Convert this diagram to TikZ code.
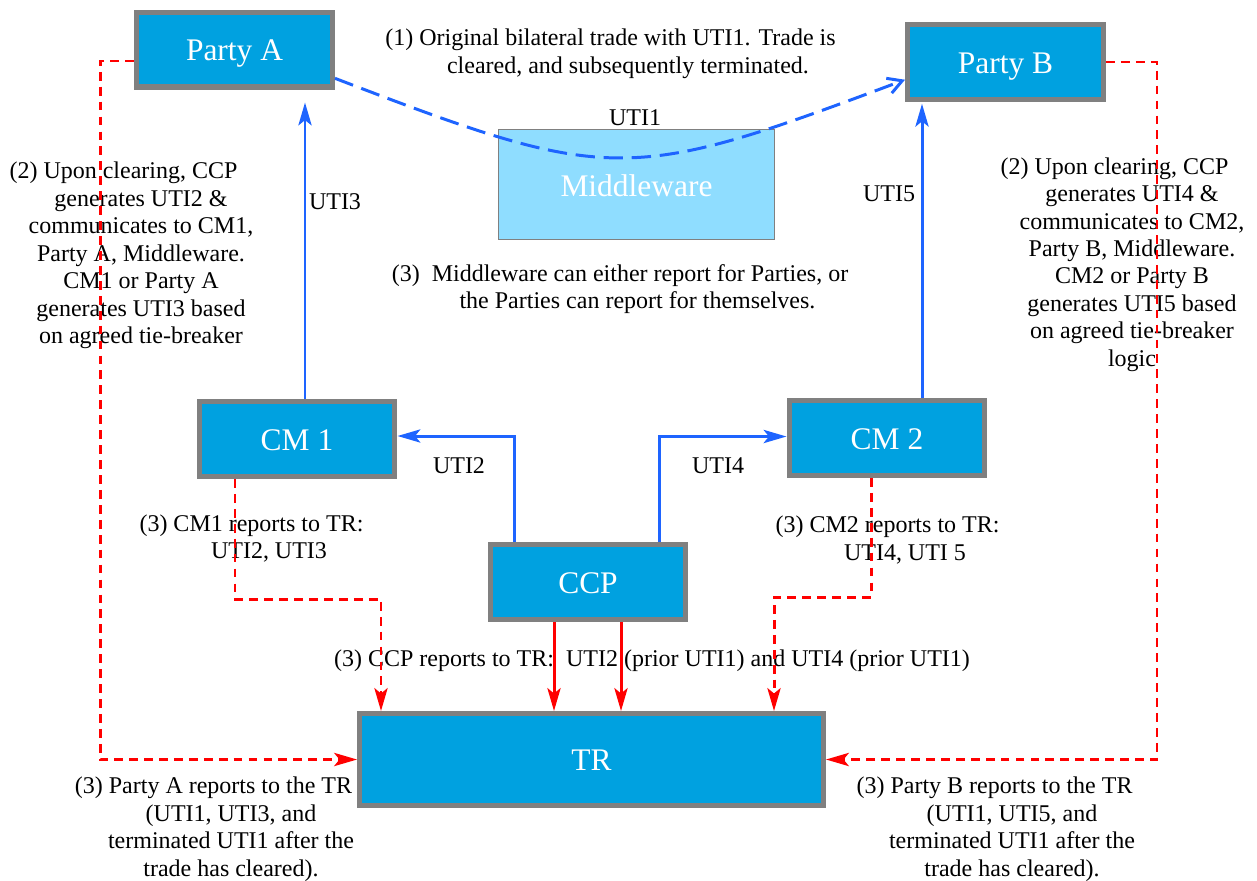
\documentclass[tikz,border=0pt]{standalone}
\usepackage{fontspec}
\setmainfont{Liberation Serif}
\usetikzlibrary{arrows.meta,calc}

\definecolor{boxblue}{RGB}{0,161,224}
\definecolor{boxgray}{RGB}{128,128,128}
\definecolor{mwblue}{RGB}{143,221,255}
\definecolor{utiblue}{RGB}{30,100,255}
\definecolor{reportred}{RGB}{255,0,0}

\def\px{0.02cm}
\def\linepad{\hspace*{0.7cm}}

\begin{document}
\begin{tikzpicture}[x=\px,y=-\px, font=\fontsize{13.66}{15.65}\selectfont]
    \tikzstyle{box}=[rectangle, fill=boxblue, draw=boxgray, line width=2.85pt, text=white, font=\fontsize{17.9}{20}\selectfont, text height=13pt, text depth=0pt, minimum width=3.92cm, minimum height=1.5cm, inner sep=0pt]
    \tikzstyle{mw box}=[rectangle, fill=mwblue, draw=boxgray, line width=0.9pt, text=white, font=\fontsize{17.9}{20}\selectfont, text height=14pt, text depth=0pt, minimum width=5.52cm, minimum height=2.2cm, inner sep=0pt]
    \tikzstyle{note}=[align=center, inner sep=0pt]
    \tikzstyle{uti arrow}=[draw=utiblue, line width=1.7pt, -{Stealth[length=13pt, width=7.5pt, inset=3pt]}]
    \tikzstyle{trade curve}=[draw=utiblue, line width=1.7pt, dash pattern=on 11pt off 5pt, -{Straight Barb[length=8pt, width=9pt]}]
    \tikzstyle{report arrow}=[draw=reportred, line width=1.7pt, -{Stealth[length=13pt, width=7.5pt, inset=3pt]}]
    \tikzstyle{report dash}=[report arrow, dash pattern=on 5pt off 3.5pt]

    \useasboundingbox (0,0) rectangle (1257,880);

    % boxes
    \node[mw box] (mw) at (636.5,184.5) {Middleware};
    \node[box] (partyA) at (234.5,49.5) {Party A};
    \node[box] (partyB) at (1005.5,62) {Party B};
    \node[box] (cm1) at (297,439) {CM 1};
    \node[box] (cm2) at (887,438) {CM 2};
    \node[box] (ccp) at (588,582) {CCP};
    \node[box, minimum width=9.28cm, minimum height=1.84cm] (tr) at (591.5,759.5) {TR};

    % notes
    \node[note] (n1) at (628,54) {(1) Original bilateral trade with UTI1. Trade is\linepad\\cleared, and subsequently terminated.};
    \node[note] (n3mw) at (637.5,289) {(3)\ \ Middleware can either report for Parties, or\linepad\\the Parties can report for themselves.};
    \node[note] (n2a) at (141,255.5) {(2) Upon clearing, CCP\linepad\\generates UTI2 \&\\communicates to CM1,\\Party A, Middleware.\\CM1 or Party A\\generates UTI3 based\\on agreed tie-breaker};
    \node[note] (n2b) at (1132,264.5) {(2) Upon clearing, CCP\linepad\\generates UTI4 \&\\communicates to CM2,\\Party B, Middleware.\\CM2 or Party B\\generates UTI5 based\\on agreed tie-breaker\\logic};
    \node[note] (n3cm1) at (269,538.5) {(3) CM1 reports to TR:\linepad\\UTI2, UTI3};
    \node[note] (n3cm2) at (905,540) {(3) CM2 reports to TR:\linepad\\UTI4, UTI 5};
    \node[note] (n3ccp) at (652,661) {(3) CCP reports to TR:\ \ UTI2 (prior UTI1) and UTI4 (prior UTI1)};
    \node[note] (n3a) at (231,829) {(3) Party A reports to the TR\linepad\\(UTI1, UTI3, and\\terminated UTI1 after the\\trade has cleared).};
    \node[note] (n3b) at (1012,829) {(3) Party B reports to the TR\linepad\\(UTI1, UTI5, and\\terminated UTI1 after the\\trade has cleared).};

    % uti labels
    \node (uti1) at (635,118) {UTI1};
    \node (uti2) at (459,466) {UTI2};
    \node (uti3) at (335,202) {UTI3};
    \node (uti4) at (718,466) {UTI4};
    \node (uti5) at (889,194) {UTI5};

    % original trade
    \draw[trade curve] (partyA.-16) .. controls (611,184) and (627,184) .. (partyB.190);

    % uti flows
    \draw[uti arrow] ($(ccp.north)+(-74,0)$) |- ($(cm1.east)+(0,-3)$);
    \draw[uti arrow] ($(ccp.north)+(71,0)$) |- ($(cm2.west)+(0,-1.5)$);
    \coordinate (upA) at ($(cm1.north)+(8,0)$);
    \coordinate (upB) at ($(cm2.north)+(35,0)$);
    \draw[uti arrow, shorten >=7.4pt] (upA) -- (upA |- partyA.south);
    \draw[uti arrow, shorten >=1pt] (upB) -- (upB |- partyB.south);

    % reporting to TR
    \foreach \dx in {-34,33}
        \draw[report arrow] ($(ccp.south)+(\dx,0)$) coordinate (top) -- (top |- tr.north);
    \draw[report dash] ($(cm1.south)+(-62,0)$) -- ++(0,120) -| ($(tr.north)+(-210.5,0)$);
    \draw[report dash] ($(cm2.south)+(-16,0)$) -- ++(0,119) -| ($(tr.north)+(182.5,0)$);
    \draw[report dash] ($(partyA.west)+(0,11.5)$) -- ++(-34,0) |- (tr.west);
    \draw[report dash] (partyB.east) -- ++(51,0) |- (tr.east);
\end{tikzpicture}
\end{document}
